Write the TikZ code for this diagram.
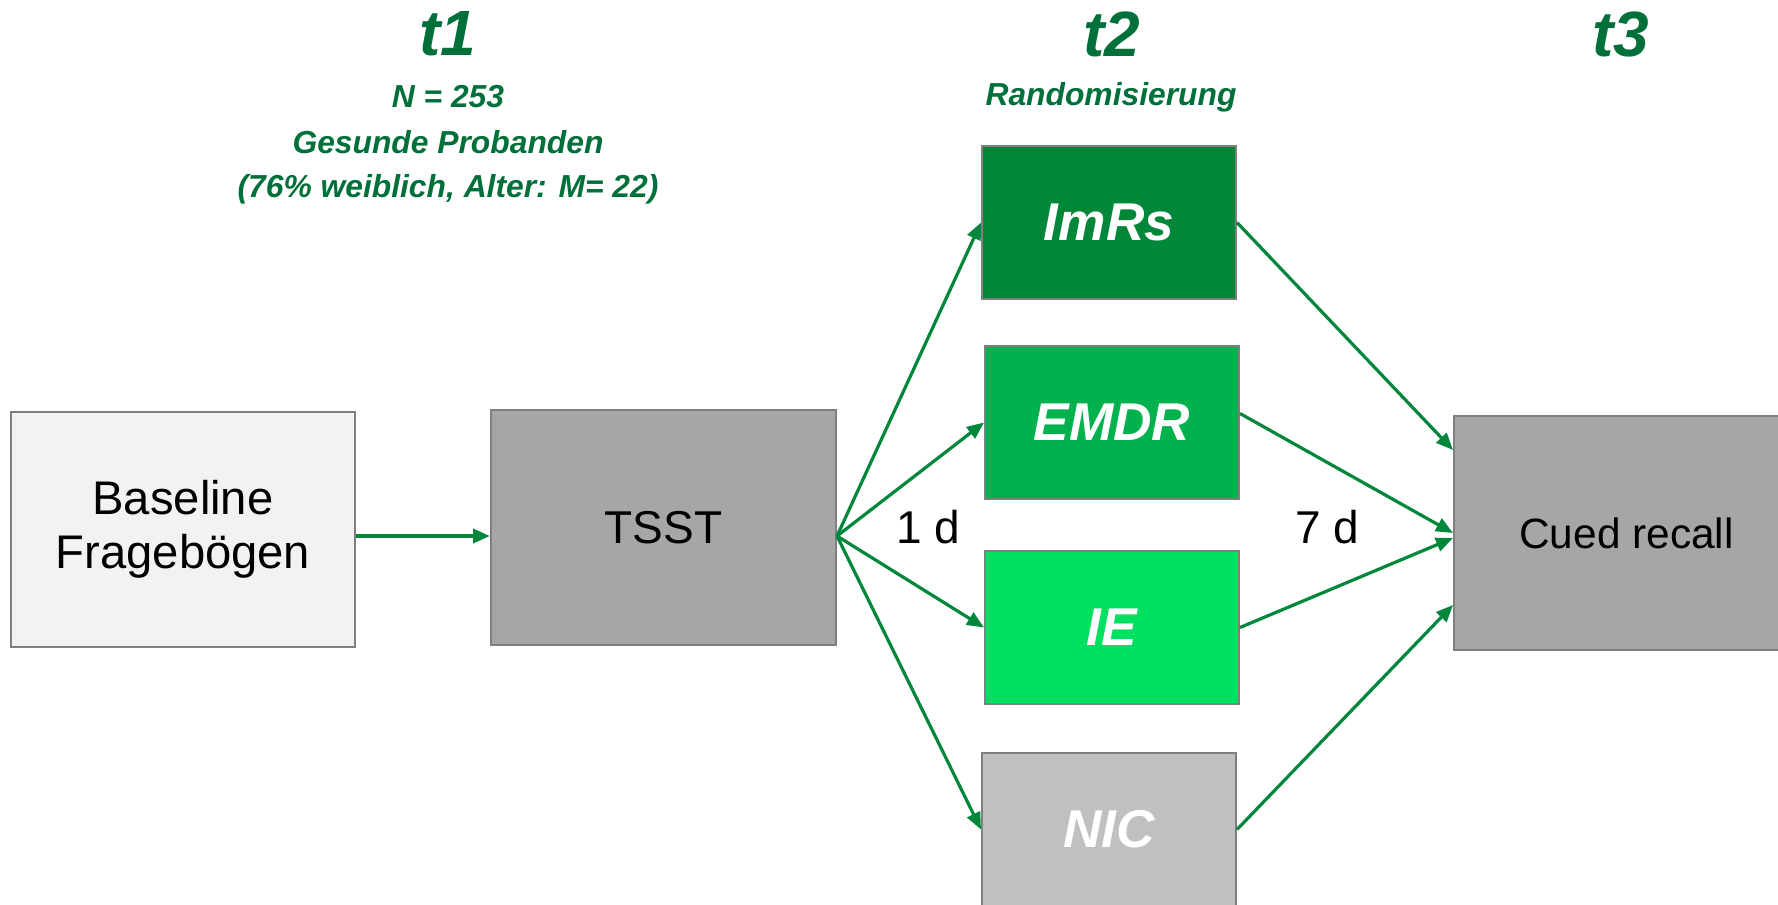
\documentclass[tikz,border=0pt]{standalone}
\usepackage{fontspec}
\setmainfont{Liberation Sans}
\usetikzlibrary{arrows.meta,calc}
\definecolor{titlegreen}{RGB}{0,112,58}
\definecolor{arrowgreen}{RGB}{0,135,60}
\definecolor{imrsfill}{RGB}{0,135,58}
\definecolor{emdrfill}{RGB}{0,177,78}
\definecolor{iefill}{RGB}{0,224,96}
\definecolor{nicfill}{RGB}{191,192,194}
\definecolor{tsstfill}{RGB}{166,166,166}
\definecolor{basefill}{RGB}{242,242,242}
\definecolor{boxline}{RGB}{127,127,127}
\begin{document}
\begin{tikzpicture}[x=0.5pt,y=-0.5pt,
  box/.style={draw=boxline, line width=1pt, inner sep=0pt, anchor=center, align=center},
  wide/.style={box, minimum width=172.5pt, minimum height=117.5pt, font=\fontsize{23}{27}\selectfont},
  cond/.style={box, minimum width=127pt, minimum height=76.5pt, text=white, font=\fontsize{26.6}{31}\selectfont\bfseries\itshape},
  phase/.style={text=titlegreen, font=\fontsize{32}{38}\selectfont\bfseries\itshape, anchor=center},
  info/.style={text=titlegreen, font=\fontsize{15.9}{19}\selectfont\bfseries\itshape, anchor=center},
  delay/.style={font=\fontsize{23}{27}\selectfont, anchor=center},
  flow/.style={draw=arrowgreen, line width=1.6pt, -{Triangle[length=8.5pt,width=7pt]}}]
\useasboundingbox (0,0) rectangle (1778,905);
\clip (0,0) rectangle (1778,905);

% phase headings
\node[phase] (t1) at (448,34) {t1};
\node[phase] (t2) at (1112,34) {t2};
\node[phase] (t3) at (1621,34) {t3};
\node[info] (n) at (448,97) {N = 253};
\node[info] (gp) at (448,142) {Gesunde Probanden};
\node[info] (demo) at (448,189) {(76\% weiblich, Alter: M= 22)};
\node[info] (rand) at (1111,97) {Randomisierung};

% boxes
\node[wide, fill=basefill, minimum width=172pt, font=\fontsize{23.6}{27}\selectfont] (base) at (183,529) {Baseline\\Fragebögen};
\node[wide, fill=tsstfill] (tsst) at (663.5,527.5) {TSST};
\node[cond, fill=imrsfill] (imrs) at (1109,222.5) {ImRs};
\node[cond, fill=emdrfill] (emdr) at (1112,422.5) {EMDR};
\node[cond, fill=iefill] (ie) at (1112,627.5) {IE};
\node[cond, fill=nicfill] (nic) at (1109,829.5) {NIC};
\node[wide, fill=tsstfill, minimum height=117pt, font=\fontsize{21.2}{26}\selectfont] (cued) at (1626.5,533) {Cued recall};

% delay labels
\node[delay] (d1) at (928,527) {1 d};
\node[delay] (d7) at (1327,527) {7 d};

% connector end points
\coordinate (fan) at ([yshift=-4.25pt]tsst.east);
\coordinate (bstart) at ([yshift=-3.5pt]base.east);
\coordinate (tin) at ([yshift=-4.25pt]tsst.west);
\coordinate (emdrout) at ([yshift=4.5pt]emdr.east);
\coordinate (cin1) at ([yshift=41.5pt]cued.west);
\coordinate (cin3) at ([yshift=-2.5pt]cued.west);
\coordinate (cin4) at ([yshift=-36pt]cued.west);

% connectors
\draw[flow, line width=1.9pt] (bstart) -- (tin);
\draw[flow] (fan) -- (imrs.west);
\draw[flow] (fan) -- (emdr.west);
\draw[flow] (fan) -- (ie.west);
\draw[flow] (fan) -- (nic.west);
\draw[flow] (imrs.east) -- (cin1);
\draw[flow] (emdrout) -- (cued.west);
\draw[flow] (ie.east) -- (cin3);
\draw[flow] (nic.east) -- (cin4);
\end{tikzpicture}
\end{document}
